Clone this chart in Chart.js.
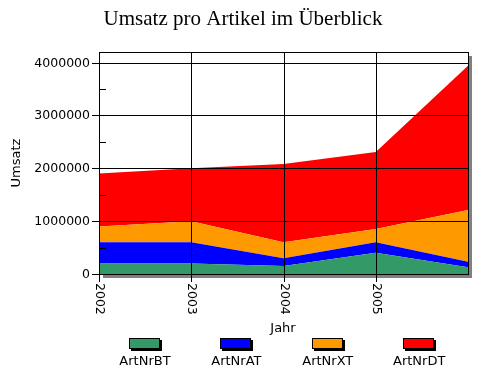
<!DOCTYPE html>
<html>
<head>
<meta charset="utf-8">
<title>Umsatz pro Artikel</title>
<script src="https://cdn.jsdelivr.net/npm/chart.js@4/dist/chart.umd.min.js"></script>
<style>
  body { margin: 0; background: #fff; }
  canvas { display: block; }
</style>
</head>
<body>
<canvas id="umsatzChart" width="489" height="370"></canvas>
<script>
// years on the x axis (the last point has no label in the original)
const years = ['2002', '2003', '2004', '2005', ''];
const yTicks = [0, 1000000, 2000000, 3000000, 4000000];

const artNrBT = [200000, 200000, 150000, 400000, 130000];
const artNrAT = [400000, 400000, 150000, 200000, 100000];
const artNrXT = [300000, 400000, 300000, 250000, 980000];
const artNrDT = [1000000, 1000000, 1480000, 1460000, 2730000];

const seriesNames = ['ArtNrBT', 'ArtNrAT', 'ArtNrXT', 'ArtNrDT'];
const seriesColors = ['#339966', '#0000ff', '#ff9900', '#ff0000'];

const sansFont = '"DejaVu Sans", sans-serif';

// shadow + white background behind the plot
const plotBack = {
  id: 'plotBack',
  beforeDatasetsDraw(chart) {
    const { ctx, chartArea: a } = chart;
    ctx.save();
    ctx.fillStyle = '#808080';
    ctx.fillRect(a.left + 4, a.bottom + 1, a.right - a.left, 3);
    ctx.fillRect(a.right + 1, a.top + 4, 3, a.bottom - a.top);
    ctx.restore();
  }
};

// grid, ticks, labels and frame drawn on top of the areas
const axesOnTop = {
  id: 'axesOnTop',
  afterDatasetsDraw(chart) {
    const { ctx, chartArea: a } = chart;
    const x = chart.scales.x, y = chart.scales.y;
    ctx.save();
    ctx.strokeStyle = '#000';
    ctx.lineWidth = 1;
    ctx.fillStyle = '#000';

    // horizontal grid + y labels
    ctx.font = '12.5px ' + sansFont;
    ctx.textAlign = 'right';
    ctx.textBaseline = 'middle';
    yTicks.forEach(v => {
      const py = Math.round(y.getPixelForValue(v)) + 0.5;
      ctx.beginPath();
      ctx.moveTo(a.left - 7, py);
      ctx.lineTo(a.right, py);
      ctx.stroke();
      ctx.fillText(String(v), a.left - 9, py);
      // minor tick half way up
      const my = Math.round(y.getPixelForValue(v + 500000)) + 0.5;
      if (v + 500000 < y.max) {
        ctx.beginPath();
        ctx.moveTo(a.left, my);
        ctx.lineTo(a.left + 7, my);
        ctx.stroke();
      }
    });

    // vertical grid + rotated year labels
    years.forEach((yr, i) => {
      if (!yr) return;
      const px = Math.round(x.getPixelForValue(i)) + 0.5;
      ctx.beginPath();
      ctx.moveTo(px, a.top);
      ctx.lineTo(px, a.bottom + 8);
      ctx.stroke();
      ctx.save();
      ctx.translate(px, a.bottom + 9);
      ctx.rotate(Math.PI / 2);
      ctx.textAlign = 'left';
      ctx.textBaseline = 'middle';
      ctx.fillText(yr, 0, 0);
      ctx.restore();
    });

    // frame
    ctx.strokeRect(Math.round(a.left) + 0.5, Math.round(a.top) + 0.5,
      Math.round(a.right - a.left), Math.round(a.bottom - a.top));

    // axis titles
    ctx.font = '13px ' + sansFont;
    ctx.textAlign = 'center';
    ctx.textBaseline = 'middle';
    ctx.fillText('Jahr', 283, 329);
    ctx.save();
    ctx.translate(17, (a.top + a.bottom) / 2);
    ctx.rotate(-Math.PI / 2);
    ctx.fillText('Umsatz', 0, 0);
    ctx.restore();

    // chart title
    ctx.font = '21px "Liberation Serif", serif';
    ctx.textBaseline = 'alphabetic';
    ctx.fillText('Umsatz pro Artikel im Überblick', 243, 25);

    // legend: box with shadow, name below
    chart.data.datasets.forEach((ds, i) => {
      const cx = 145 + i * 91.4;
      const bx = Math.round(cx - 16), by = 338;
      ctx.fillStyle = '#000';
      ctx.fillRect(bx + 2, by + 2, 31, 11);
      ctx.fillStyle = ds.backgroundColor;
      ctx.fillRect(bx, by, 31, 11);
      ctx.strokeRect(bx + 0.5, by + 0.5, 30, 10);
      ctx.fillStyle = '#000';
      ctx.font = '13px ' + sansFont;
      ctx.textAlign = 'center';
      ctx.textBaseline = 'middle';
      ctx.fillText(ds.label, cx, 362);
    });
    ctx.restore();
  }
};

const seriesData = [artNrBT, artNrAT, artNrXT, artNrDT];

const ctx = document.getElementById('umsatzChart').getContext('2d');
const umsatzChart = new Chart(ctx, {
  type: 'line',
  data: {
    labels: years,
    datasets: seriesData.map((d, i) => ({
      label: seriesNames[i],
      data: d,
      backgroundColor: seriesColors[i],
      borderColor: seriesColors[i],
      borderWidth: 0,
      pointRadius: 0,
      tension: 0,
      fill: i === 0 ? 'origin' : '-1'
    }))
  },
  options: {
    responsive: false,
    animation: false,
    layout: { padding: { left: 99, top: 52, right: 21, bottom: 96 } },
    plugins: { legend: { display: false }, tooltip: { enabled: false } },
    scales: {
      x: { display: false, offset: false },
      y: { display: false, stacked: true, min: 0, max: 4200000 }
    }
  },
  plugins: [plotBack, axesOnTop]
});
</script>
</body>
</html>
